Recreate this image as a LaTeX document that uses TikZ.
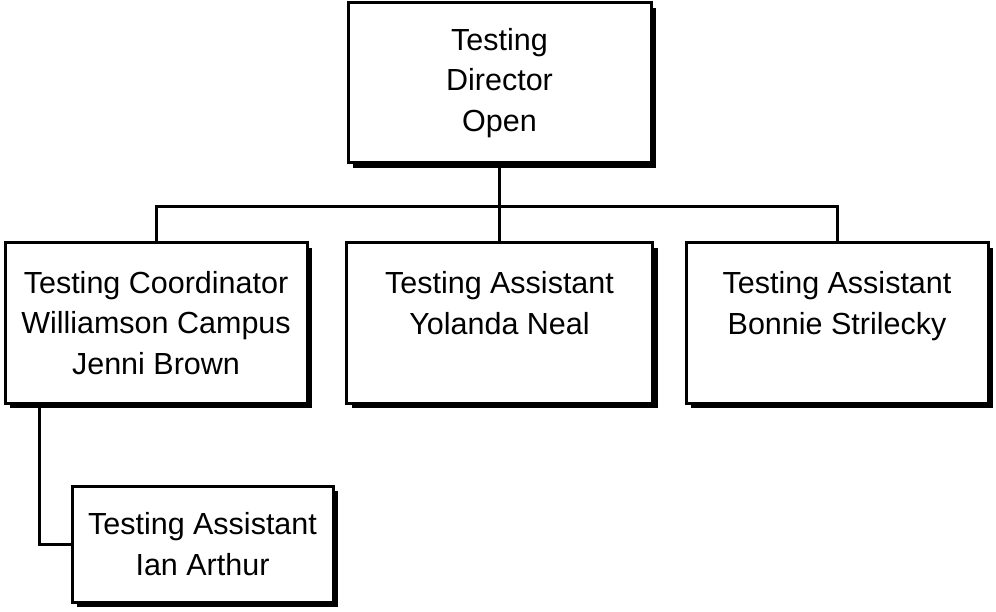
\documentclass[tikz,border=0pt]{standalone}
\usepackage{fontspec}
\setmainfont{Liberation Sans}
\usetikzlibrary{shadows}
\begin{document}
\begin{tikzpicture}[x=1pt,y=-1pt,
  orgbox/.style={draw=black, line width=3pt, fill=white, rectangle, inner sep=0pt,
    align=center, font=\fontsize{30.5}{40.5}\selectfont,
    general shadow={fill=black, shadow xshift=5pt, shadow yshift=-5pt}},
  link/.style={line width=3pt, black}]
\useasboundingbox (0,0) rectangle (996,612);
\node[orgbox, minimum width=303pt, minimum height=160pt] (top) at (499.5,83) {Testing\\Director\\Open};
\node[orgbox, minimum width=302pt, minimum height=160pt] (coord) at (156,323) {Testing Coordinator\\Williamson Campus\\Jenni Brown};
\node[orgbox, minimum width=306pt, minimum height=160pt] (mid) at (499.5,323) {Testing Assistant\\Yolanda Neal\\\mbox{}};
\node[orgbox, minimum width=302pt, minimum height=160pt] (right) at (837,323) {Testing Assistant\\Bonnie Strilecky\\\mbox{}};
\node[orgbox, minimum width=261pt, minimum height=116pt] (ian) at (202.5,544) {Testing Assistant\\Ian Arthur};
\coordinate (bar) at (499.5,207);
\draw[link] (top.south) -- (bar);
\draw[link] (bar) -| (coord.north);
\draw[link] (bar) -| (right.north);
\draw[link] (bar) -- (mid.north);
\draw[link] ([xshift=36pt]coord.south west) |- (ian.west);
\end{tikzpicture}
\end{document}
